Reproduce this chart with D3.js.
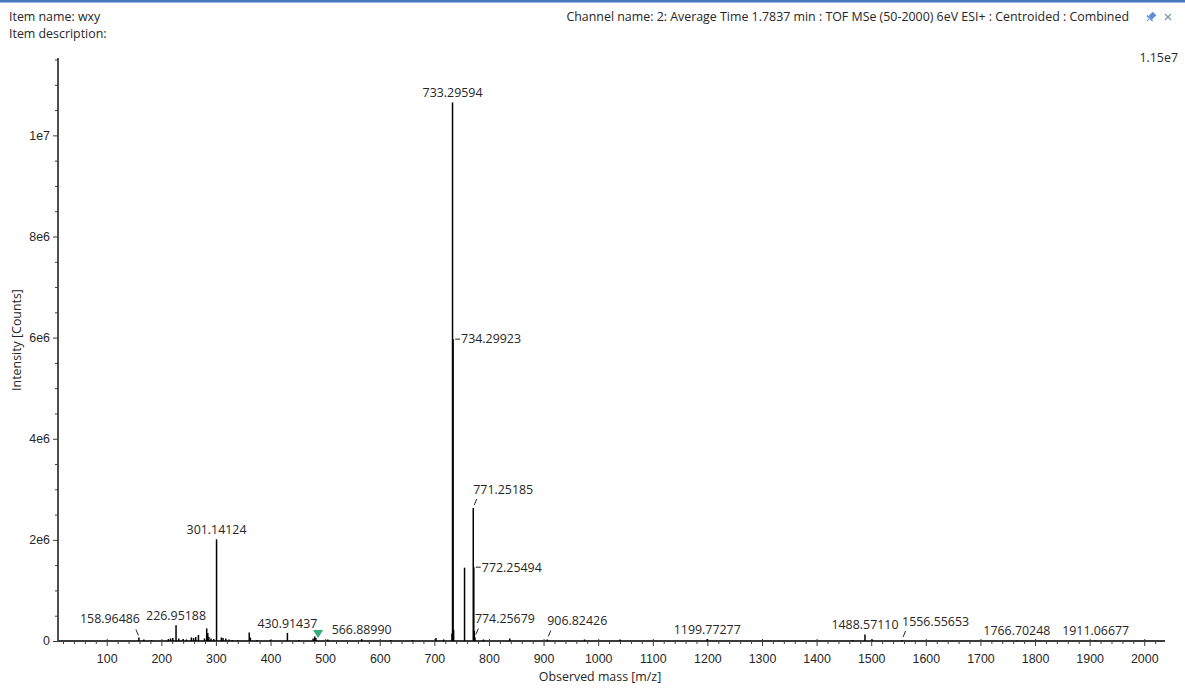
<!DOCTYPE html>
<html>
<head>
<meta charset="utf-8">
<script src="https://cdn.jsdelivr.net/npm/d3@7/dist/d3.min.js"></script>
<style>
  html, body { margin: 0; padding: 0; background: #fff; }
  svg { display: block; font-family: "Open Sans", "Noto Sans", sans-serif; }
  text { fill: #262626; }
</style>
</head>
<body>
<svg id="chart" width="1185" height="688"></svg>
<script>
// Centroided spectrum: m/z and intensity (counts) of each peak
const peakMz = [
  158.96486, 168.0, 182.0, 213.0, 217.0, 221.0, 226.95188, 232.0, 240.0, 246.0,
  255.0, 259.0, 263.0, 268.0, 279.0, 283.1, 285.1, 287.0, 291.0, 296.0,
  301.14124, 310.0, 313.0, 318.0, 324.0, 330.0, 340.0, 361.0, 363.0, 375.0,
  400.0, 430.91437, 452.0, 478.0, 481.0, 483.0, 505.0, 566.88990, 620.0, 660.0,
  703.0, 717.0, 732.3, 733.29594, 734.29923, 735.30, 755.28, 771.25185, 772.25494, 773.26,
  774.25679, 790.0, 838.0, 906.82426, 975.0, 1040.0, 1199.77277, 1466.0, 1488.57110, 1502.0,
  1556.55653, 1766.70248, 1911.06677
];
const peakIntensity = [
  70000, 30000, 20000, 40000, 50000, 60000, 310000, 50000, 40000, 30000,
  70000, 60000, 80000, 120000, 50000, 250000, 160000, 80000, 50000, 40000,
  2010000, 70000, 60000, 50000, 30000, 20000, 20000, 170000, 70000, 20000,
  20000, 160000, 20000, 50000, 90000, 60000, 30000, 40000, 20000, 20000,
  60000, 30000, 150000, 10650000, 5970000, 220000, 1450000, 2630000, 1460000, 200000,
  70000, 30000, 50000, 30000, 30000, 30000, 40000, 20000, 130000, 30000,
  20000, 10000, 10000
];

// Annotated peaks and how each annotation is placed
const labeledMz = [
  158.96486, 226.95188, 301.14124, 430.91437, 566.88990, 733.29594, 734.29923, 771.25185,
  772.25494, 774.25679, 906.82426, 1199.77277, 1488.57110, 1556.55653, 1766.70248, 1911.06677
];
const labelPlacement = [
  "slashLeft", "top", "top", "top", "top", "top", "right", "slashRight",
  "right", "slashRight", "slashRight", "top", "top", "slashRight", "top", "top"
];

// Axis ticks
const xMajorTicks = [100, 200, 300, 400, 500, 600, 700, 800, 900, 1000,
  1100, 1200, 1300, 1400, 1500, 1600, 1700, 1800, 1900, 2000];
const yMajorTicks = [0, 2e6, 4e6, 6e6, 8e6, 1e7];
const yMinorStep = 5e5;
const xMinorStep = 20;

const mzDomain = [10.8, 2038];
const intensityMax = 1.153e7;
const fullScale = 1.15e7;
const markerMz = 487;

const headerLeft = ["Item name: wxy", "Item description:"];
const channelName = "Channel name: 2: Average Time 1.7837 min : TOF MSe (50-2000) 6eV ESI+ : Centroided : Combined";

const fontSize = "12.4px";
const svg = d3.select("#chart");

// window frame accent
svg.append("rect").attr("x", 0).attr("y", 0).attr("width", 1185).attr("height", 2).attr("fill", "#4a78bd");
svg.append("rect").attr("x", 0).attr("y", 2).attr("width", 1185).attr("height", 1).attr("fill", "#9cb8e0");

// header texts
svg.selectAll("text.hdr").data(headerLeft).join("text")
  .attr("class", "hdr").attr("x", 9).attr("y", (d, i) => 21 + i * 17)
  .style("font-size", fontSize).text(d => d);
svg.append("text").attr("x", 1129).attr("y", 21).attr("text-anchor", "end")
  .style("font-size", fontSize).text(channelName);

// pin and close glyphs
const pin = svg.append("g").attr("transform", "translate(1151,17) rotate(45)");
pin.append("rect").attr("x", -2.5).attr("y", -5).attr("width", 5).attr("height", 6).attr("fill", "#5b8fd6");
pin.append("rect").attr("x", -4).attr("y", 1).attr("width", 8).attr("height", 1.5).attr("fill", "#5b8fd6");
pin.append("line").attr("x1", 0).attr("y1", 2.5).attr("x2", 0).attr("y2", 6).attr("stroke", "#5b8fd6").attr("stroke-width", 1);
svg.append("path").attr("d", "M1165,14 L1171,20 M1171,14 L1165,20")
  .attr("stroke", "#7e93ad").attr("stroke-width", 1.3).attr("fill", "none");

// scales
const x = d3.scaleLinear().domain(mzDomain).range([58, 1165]);
const y = d3.scaleLinear().domain([0, intensityMax]).range([641, 58]);

// full-scale label
svg.append("text").attr("x", 1178).attr("y", 62).attr("text-anchor", "end")
  .style("font-size", fontSize).text(d3.format(".2e")(fullScale).replace("e+", "e"));

const axisColor = "#3c3c3c";

// x axis: minor then major ticks
const xMinor = d3.range(20, 2038, xMinorStep).filter(v => v % 100 !== 0);
svg.append("g").attr("transform", "translate(0,641)")
  .call(d3.axisBottom(x).tickValues(xMinor).tickSize(3).tickFormat(""))
  .call(g => g.select(".domain").remove())
  .call(g => g.selectAll("line").attr("stroke", axisColor));
svg.append("g").attr("transform", "translate(0,641)")
  .call(d3.axisBottom(x).tickValues(xMajorTicks).tickSize(5).tickPadding(8).tickFormat(d3.format("d")))
  .call(g => g.select(".domain").remove())
  .call(g => g.selectAll("line").attr("stroke", axisColor).attr("y1", -2))
  .call(g => g.selectAll("text").style("font-size", fontSize).style("font-family", null).attr("fill", "#262626"));

// y axis: minor then major ticks
const yMinor = d3.range(0, intensityMax, yMinorStep).filter(v => v % 2e6 !== 0);
svg.append("g").attr("transform", "translate(58,0)")
  .call(d3.axisLeft(y).tickValues(yMinor).tickSize(3).tickFormat(""))
  .call(g => g.select(".domain").remove())
  .call(g => g.selectAll("line").attr("stroke", axisColor));
const yFmt = v => v === 0 ? "0" : d3.format(".0e")(v).replace("e+", "e");
svg.append("g").attr("transform", "translate(58,0)")
  .call(d3.axisLeft(y).tickValues(yMajorTicks).tickSize(5).tickPadding(3).tickFormat(yFmt))
  .call(g => g.select(".domain").remove())
  .call(g => g.selectAll("line").attr("stroke", axisColor))
  .call(g => g.selectAll("text").style("font-size", fontSize).style("font-family", null).attr("fill", "#262626"));

// axis lines
svg.append("line").attr("x1", x(mzDomain[0])).attr("x2", x(mzDomain[1]))
  .attr("y1", y(0)).attr("y2", y(0)).attr("stroke", axisColor).attr("stroke-width", 1.8);
svg.append("line").attr("x1", x(mzDomain[0])).attr("x2", x(mzDomain[0]))
  .attr("y1", y(0)).attr("y2", y(intensityMax)).attr("stroke", axisColor).attr("stroke-width", 1.8);

// axis titles
svg.append("text").attr("x", 600).attr("y", 681).attr("text-anchor", "middle")
  .style("font-size", fontSize).text("Observed mass [m/z]");
svg.append("text").attr("transform", "translate(21,340) rotate(-90)").attr("text-anchor", "middle")
  .style("font-size", fontSize).text("Intensity [Counts]");

// spectrum sticks
const peaks = peakMz.map((m, i) => ({ mz: m, v: peakIntensity[i] }));
svg.append("g").selectAll("line").data(peaks).join("line")
  .attr("x1", d => x(d.mz)).attr("x2", d => x(d.mz))
  .attr("y1", y(0)).attr("y2", d => y(d.v))
  .attr("stroke", "#000").attr("stroke-width", 1.5);

// peak annotations
const fmt5 = d3.format(".5f");
const ann = svg.append("g").style("font-size", fontSize);
labeledMz.forEach((m, i) => {
  const pk = peaks.find(p => p.mz === m);
  const px = x(pk.mz), top = y(pk.v);
  const kind = labelPlacement[i];
  const label = fmt5(m);
  if (kind === "top") {
    ann.append("text").attr("x", px).attr("y", top - 5).attr("text-anchor", "middle").text(label);
  } else if (kind === "right") {
    ann.append("line").attr("x1", px + 2).attr("x2", px + 7).attr("y1", top).attr("y2", top)
      .attr("stroke", "#262626").attr("stroke-width", 1);
    ann.append("text").attr("x", px + 8).attr("y", top).attr("dy", "0.35em").text(label);
  } else if (kind === "slashRight") {
    ann.append("line").attr("x1", px + 1).attr("y1", top - 3).attr("x2", px + 3.5).attr("y2", top - 9)
      .attr("stroke", "#262626").attr("stroke-width", 1);
    ann.append("text").attr("x", px).attr("y", top - 14).text(label);
  } else if (kind === "slashLeft") {
    ann.append("line").attr("x1", px - 0.5).attr("y1", top - 2).attr("x2", px - 3).attr("y2", top - 8)
      .attr("stroke", "#262626").attr("stroke-width", 1);
    ann.append("text").attr("x", px + 1).attr("y", top - 14).attr("text-anchor", "end").text(label);
  }
});

// cursor marker
const mx = x(markerMz);
svg.append("path")
  .attr("d", d3.line()([[mx - 5, 630], [mx + 5, 630], [mx, 638]]) + "Z")
  .attr("fill", "#2fae78");
</script>
</body>
</html>
